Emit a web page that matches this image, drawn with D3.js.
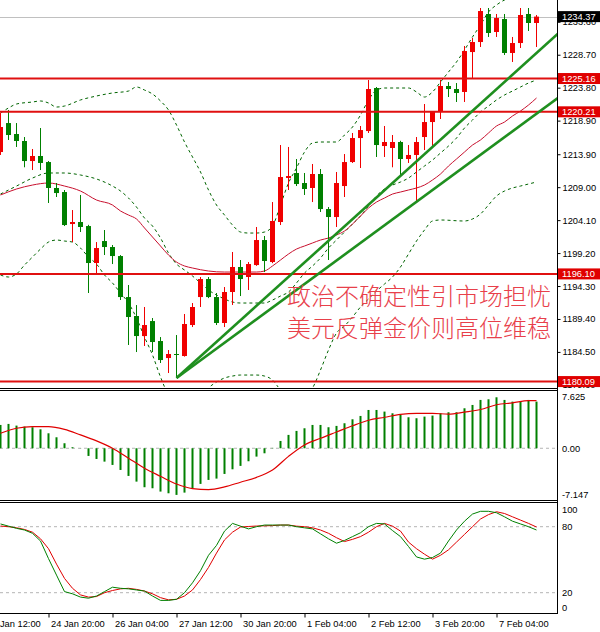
<!DOCTYPE html>
<html>
<head>
<meta charset="utf-8">
<script src="https://cdn.jsdelivr.net/npm/d3@7"></script>
<style>
body { margin: 0; background: #fff; }
svg { display: block; }
text { font-family: "Liberation Sans", Arial, sans-serif; font-size: 9.3px; }
</style>
</head>
<body>
<div id="chart"></div>
<script>
// H4 candles, bar 0 = leftmost visible bar
const openP = [1214.23,1218.54,1216.91,1215.87,1212.89,1213.64,1212.74,1208.88,1208.28,1203.52,
  1203.82,1203.22,1197.72,1200.99,1200.10,1198.76,1192.66,1189.84,1186.86,1189.09,
  1186.12,1183.59,1184.19,1183.89,1188.50,1192.66,1195.34,1192.66,1188.80,1193.41,
  1197.13,1195.64,1197.42,1201.14,1197.87,1203.82,1210.37,1211.11,1209.62,1208.88,
  1210.96,1205.75,1204.56,1209.17,1212.74,1216.31,1217.35,1223.75,1215.12,1214.83,
  1215.72,1213.19,1213.79,1216.46,1218.69,1220.18,1224.05,1223.60,1223.16,1229.10,
  1230.59,1234.76,1232.08,1234.01,1228.96,1230.44,1234.76,1233.42];
const highP = [1220.03,1220.48,1218.54,1216.46,1214.68,1217.80,1212.89,1209.62,1208.58,1205.60,
  1207.84,1203.40,1200.84,1202.63,1200.40,1198.90,1194.45,1191.47,1191.18,1189.54,
  1186.71,1184.78,1187.01,1190.14,1191.77,1195.64,1195.64,1193.26,1194.15,1199.36,
  1198.17,1197.87,1203.08,1201.74,1206.79,1215.27,1214.98,1213.19,1211.11,1212.45,
  1211.70,1206.05,1211.26,1213.93,1217.06,1218.10,1224.94,1223.90,1218.10,1216.76,
  1215.90,1215.27,1216.46,1221.37,1220.30,1224.94,1224.64,1224.49,1230.00,1231.19,
  1235.65,1235.65,1234.76,1234.76,1231.34,1235.65,1235.65,1234.61];
const lowP = [1213.79,1216.02,1214.98,1211.96,1211.55,1211.55,1206.65,1207.54,1203.22,1200.84,
  1202.33,1193.26,1195.94,1198.91,1197.57,1192.22,1185.53,1184.48,1185.38,1184.48,
  1182.85,1181.36,1180.62,1183.80,1188.20,1191.18,1192.50,1188.50,1188.20,1191.48,
  1192.81,1193.71,1197.30,1196.38,1197.70,1203.37,1208.58,1209.17,1207.84,1206.79,
  1205.31,1198.17,1203.08,1207.54,1212.60,1211.85,1217.06,1213.49,1213.49,1211.96,
  1210.81,1212.60,1206.79,1214.53,1214.98,1219.14,1222.41,1221.67,1221.67,1225.24,
  1229.85,1231.34,1231.34,1228.66,1227.62,1229.70,1232.23,1229.85];
const closeP = [1217.95,1216.76,1215.87,1212.89,1213.64,1212.60,1208.88,1208.13,1203.37,1203.82,
  1203.08,1197.72,1199.95,1200.10,1198.76,1192.66,1189.69,1186.86,1188.50,1185.97,
  1183.29,1184.19,1184.04,1188.65,1191.18,1195.34,1192.66,1188.80,1193.41,1197.13,
  1195.34,1197.57,1201.14,1198.02,1203.97,1210.51,1210.66,1209.47,1208.73,1210.96,
  1205.75,1204.56,1209.62,1212.74,1216.31,1217.50,1223.60,1215.27,1215.72,1215.72,
  1213.19,1213.79,1215.72,1218.69,1220.18,1224.05,1223.60,1223.01,1229.25,1230.59,
  1235.20,1231.93,1234.16,1228.96,1230.44,1234.61,1233.42,1234.37];

// Bollinger bands and moving average, [bar, price]
const bandUpper = [[0,1220.03],[1,1220.78],[2,1221.37],[4,1221.67],[5,1221.82],[6,1221.52],[7,1220.92],[8,1221.07],
  [10,1221.97],[12,1222.56],[14,1223.01],[16,1223.30],[17,1223.90],[18,1223.45],[19,1222.86],[20,1221.82],
  [21,1220.48],[22,1218.25],[23,1215.72],[24,1213.49],[25,1211.26],[26,1208.58],[27,1206.35],[28,1204.86],
  [29,1203.37],[30,1202.33],[31,1202.18],[32,1202.18],[33,1202.33],[34,1203.22],[35,1206.35],[36,1209.62],
  [37,1211.85],[38,1214.23],[39,1215.57],[40,1215.72],[42,1215.72],[43,1216.76],[44,1217.95],[45,1219.73],
  [46,1221.97],[47,1223.45],[48,1223.75],[51,1223.75],[52,1223.16],[53,1222.41],[54,1223.16],[55,1224.64],
  [56,1226.13],[57,1227.62],[58,1229.40],[59,1231.34],[60,1233.12],[61,1235.06],[62,1236.10],[63,1236.84],
  [64,1237.29],[65,1237.58],[66,1237.73],[67,1237.88]];
const bandMiddle = [[0,1207.98],[2,1209.17],[4,1210.36],[6,1211.11],[8,1211.11],[10,1210.81],[12,1210.22],
  [14,1209.17],[15,1208.43],[16,1207.39],[17,1206.05],[18,1204.41],[19,1203.22],[20,1201.44],[21,1199.21],
  [22,1197.57],[23,1196.68],[24,1195.79],[25,1194.75],[26,1193.71],[27,1192.96],[28,1192.37],[29,1191.92],
  [30,1191.77],[33,1191.77],[34,1192.22],[35,1192.81],[36,1193.41],[37,1194.75],[38,1196.23],[39,1197.28],
  [40,1198.47],[41,1199.95],[42,1201.14],[43,1202.33],[44,1203.52],[45,1204.71],[46,1206.20],[47,1207.69],
  [48,1208.73],[49,1209.32],[50,1209.77],[51,1210.36],[52,1211.26],[53,1212.15],[54,1213.04],[55,1214.08],
  [56,1215.12],[57,1216.31],[58,1217.80],[59,1218.99],[60,1220.18],[61,1221.07],[62,1221.97],[63,1222.71],
  [64,1223.30],[65,1223.90],[66,1224.49],[67,1224.94]];
const bandLower = [[0,1195.94],[1,1195.64],[2,1196.09],[3,1197.42],[4,1198.61],[5,1199.80],[6,1200.84],[7,1201.14],
  [8,1200.99],[9,1200.84],[10,1199.95],[11,1198.61],[12,1197.57],[13,1195.94],[14,1194.75],[15,1193.26],
  [16,1191.77],[17,1189.54],[18,1186.71],[19,1184.04],[20,1180.77],[21,1178.09],[22,1176.90],[23,1176.60],
  [24,1176.75],[25,1177.64],[26,1179.13],[27,1180.02],[28,1180.62],[29,1180.91],[30,1181.06],[32,1181.06],
  [33,1180.91],[34,1180.32],[35,1178.83],[36,1177.64],[37,1177.34],[38,1177.94],[39,1179.13],[40,1181.81],
  [41,1184.78],[42,1187.31],[43,1188.35],[44,1189.69],[45,1191.18],[46,1192.37],[47,1193.56],[48,1194.60],
  [49,1195.64],[50,1197.13],[51,1199.06],[52,1200.99],[53,1202.63],[54,1203.97],[55,1204.12],[58,1203.97],
  [59,1204.27],[60,1205.01],[61,1206.35],[62,1207.69],[63,1208.43],[64,1208.88],[65,1209.17],[66,1209.47],
  [67,1209.77]];
const maLine = [[0,1207.84],[2,1208.73],[4,1209.32],[6,1209.62],[8,1209.17],[10,1208.43],[12,1207.09],
  [14,1206.35],[15,1205.46],[16,1204.86],[17,1204.27],[18,1202.93],[19,1201.59],[20,1200.25],[21,1198.91],
  [22,1197.87],[23,1197.28],[24,1196.98],[26,1196.53],[28,1196.38],[32,1196.38],[33,1196.53],[34,1197.28],
  [35,1198.17],[36,1199.06],[37,1199.80],[38,1200.25],[39,1200.70],[40,1201.14],[41,1201.44],[42,1201.89],
  [43,1202.48],[44,1203.52],[45,1204.71],[46,1205.90],[47,1206.79],[48,1207.39],[49,1207.98],[50,1208.28],
  [51,1208.58],[52,1208.88],[53,1209.32],[54,1210.07],[55,1210.96],[56,1212.15],[57,1213.19],[58,1214.23],
  [59,1215.27],[60,1216.02],[61,1217.06],[62,1218.10],[63,1218.69],[64,1219.59],[65,1220.33],[66,1221.22],
  [67,1222.26]];

// support / resistance and trend lines
const levels = [1225.16, 1220.21, 1196.10, 1180.09];
const bidPrice = 1234.37;
const trendLines = [[[22,1180.62],[70,1232.17]], [[22,1180.62],[70,1222.55]]];
const priceTicks = [1233.60,1228.70,1223.80,1218.90,1213.90,1209.00,1204.10,1199.20,1194.30,1189.40,1184.50,1179.60];
const noteLines = ["政治不确定性引市场担忧", "美元反弹金价则高位维稳"];

// MACD
const macdHist = [3.16,3.30,3.07,2.94,2.85,2.57,2.03,1.49,0.68,0.14,
  0.02,-1.04,-1.45,-1.81,-2.26,-2.94,-3.75,-4.52,-5.28,-5.42,
  -5.87,-6.10,-6.32,-6.01,-5.42,-4.83,-4.29,-4.11,-3.48,-2.85,
  -2.39,-1.76,-1.13,-0.68,0.05,0.99,1.81,2.35,2.71,3.16,
  3.16,2.85,3.03,3.39,3.93,4.38,5.19,5.19,4.97,4.74,
  4.52,4.20,4.07,4.29,4.43,4.74,4.88,4.88,5.42,5.87,
  6.55,6.64,6.91,6.55,6.32,6.32,6.55,6.32];
const macdSignal = [[0,2.03],[2,2.71],[4,2.94],[6,2.94],[8,2.57],[10,1.81],[12,1.0],[14,0.0],[16,-1.35],
  [18,-2.7],[20,-3.8],[22,-4.85],[24,-5.47],[26,-5.6],[28,-5.24],[30,-4.6],[32,-3.95],[34,-2.95],[36,-1.1],
  [38,0.45],[40,1.35],[42,2.2],[44,3.05],[46,3.8],[48,4.2],[50,4.6],[52,4.74],[54,4.74],[56,4.62],
  [58,4.9],[60,5.25],[62,5.9],[64,6.15],[66,6.46],[67,6.46]];
const macdTicks = [7.625, 0, -7.147];
const macdTickText = ["7.625", "0.00", "-7.147"];

// Stochastic
const stochK = [82.5,80.5,78.5,77,74,67,51,36,21,19,
  16,15,17,21,25,24,23.5,22.5,21.5,17,
  13,13,14,20,29,40,54,63,76,83,
  80.5,78,80,81.5,81.5,81.5,81.5,80,79,78,
  73.5,69,65,67.5,71,74.5,80,83,82.5,76.5,
  71,62,52.5,50.5,52,56,67,77,85,91.5,
  94,94,92.7,89,85,82.5,80,77];
const stochD = [80.6,80,79,77.5,75,69,60,46,33,24,
  18,16,16.5,20,22,23.5,24,23,21.5,19,
  15.5,13.5,14,17,22.5,32,43,56,68,75,
  79.7,80.2,80.6,80.8,81,81.5,81.5,80.5,80,79,
  77,74,70,66.5,68.5,71,75,80,83,80.5,
  76,66,60,55,50.5,54,59,66,73,80,
  87,91,93.6,92,89,86,83,79.7];
const stochTicks = [100, 80, 20, 0];

const timeBars = [-2, 6, 14, 22, 30, 38, 46, 54, 62];
const timeLabels = ["23 Jan 12:00","24 Jan 20:00","26 Jan 04:00","27 Jan 12:00","30 Jan 20:00",
  "1 Feb 04:00","2 Feb 12:00","3 Feb 20:00","7 Feb 04:00"];

const width = 600, height = 632, plotW = 557;
const upColor = "#f00000", downColor = "#008000";

const svg = d3.select("#chart").append("svg").attr("width", width).attr("height", height);

const x = d3.scaleLinear().domain([0, 67]).range([0.5, 536.5]);
const y = d3.scaleLinear().domain([1179.43, 1236.84]).range([386, 0]);
const yM = d3.scaleLinear().domain([-7.147, 7.625]).range([501, 392]);
const yS = d3.scaleLinear().domain([0, 100]).range([614.7, 504.7]);

const defs = svg.append("defs");
const clip = (id, y0, h) => defs.append("clipPath").attr("id", id)
  .append("rect").attr("x", 0).attr("y", y0).attr("width", plotW).attr("height", h);
clip("cMain", 0, 387);
clip("cMacd", 391, 109);
clip("cStoch", 504, 109);

// ---- main price window
const gMain = svg.append("g").attr("clip-path", "url(#cMain)");

gMain.append("line").attr("x1", 0).attr("x2", plotW)
  .attr("y1", Math.round(y(bidPrice)) + 0.5).attr("y2", Math.round(y(bidPrice)) + 0.5)
  .attr("stroke", "#c0c0c0");

const priceLine = d3.line().x(d => x(d[0])).y(d => y(d[1])).curve(d3.curveMonotoneX);
[bandUpper, bandMiddle, bandLower].forEach(b => {
  gMain.append("path").datum(b).attr("d", priceLine)
    .attr("fill", "none").attr("stroke", "#006400").attr("stroke-width", 1)
    .attr("stroke-dasharray", "3,3");
});
gMain.append("path").datum(maLine).attr("d", priceLine)
  .attr("fill", "none").attr("stroke", "#c8102e").attr("stroke-width", 1);

const candles = openP.map((o, i) => ({i, o, h: highP[i], l: lowP[i], c: closeP[i]}));
const colorOf = d => d.c > d.o ? upColor : downColor;

const candle = gMain.selectAll(".candle").data(candles).join("g").attr("class", "candle");
candle.append("line")
  .attr("x1", d => x(d.i)).attr("x2", d => x(d.i))
  .attr("y1", d => y(d.h)).attr("y2", d => y(d.l))
  .attr("stroke", colorOf).attr("stroke-width", 1);
candle.append("rect")
  .attr("x", d => x(d.i) - 2.5).attr("width", 5)
  .attr("y", d => y(Math.max(d.o, d.c)))
  .attr("height", d => Math.max(1, Math.abs(y(d.o) - y(d.c))))
  .attr("fill", colorOf);

gMain.selectAll(".level").data(levels).join("line").attr("class", "level")
  .attr("x1", 0).attr("x2", plotW)
  .attr("y1", d => y(d)).attr("y2", d => y(d))
  .attr("stroke", "#e01010").attr("stroke-width", 2);

gMain.selectAll(".trend").data(trendLines).join("line").attr("class", "trend")
  .attr("x1", d => x(d[0][0])).attr("y1", d => y(d[0][1]))
  .attr("x2", d => x(d[1][0])).attr("y2", d => y(d[1][1]))
  .attr("stroke", "#1f8f1f").attr("stroke-width", 2.6);

svg.append("g").selectAll("text").data(noteLines).join("text")
  .attr("x", 287).attr("y", (d, k) => 305 + k * 32)
  .style("font-family", "'Noto Sans CJK SC', sans-serif")
  .style("font-size", "24px").style("font-weight", 300)
  .attr("fill", "#e8404a")
  .text(d => d);

// ---- MACD window
const gMacd = svg.append("g").attr("clip-path", "url(#cMacd)");
gMacd.append("line").attr("x1", 0).attr("x2", plotW)
  .attr("y1", yM(0)).attr("y2", yM(0))
  .attr("stroke", "#b4b4b4").attr("stroke-dasharray", "3,3");
gMacd.selectAll(".hist").data(macdHist).join("rect").attr("class", "hist")
  .attr("x", (d, i) => x(i) - 1).attr("width", 2)
  .attr("y", d => Math.min(yM(d), yM(0)))
  .attr("height", d => Math.abs(yM(d) - yM(0)))
  .attr("fill", downColor);
gMacd.append("path").datum(macdSignal)
  .attr("d", d3.line().x(d => x(d[0])).y(d => yM(d[1])).curve(d3.curveMonotoneX))
  .attr("fill", "none").attr("stroke", "#e00000").attr("stroke-width", 1.2);

// ---- Stochastic window
const gStoch = svg.append("g").attr("clip-path", "url(#cStoch)");
gStoch.selectAll(".lvl").data([80, 20]).join("line").attr("class", "lvl")
  .attr("x1", 0).attr("x2", plotW)
  .attr("y1", d => yS(d)).attr("y2", d => yS(d))
  .attr("stroke", "#b4b4b4").attr("stroke-dasharray", "3,3");
const stochLine = d3.line().x((d, i) => x(i)).y(d => yS(d));
gStoch.append("path").datum(stochD).attr("d", stochLine)
  .attr("fill", "none").attr("stroke", "#e00000").attr("stroke-width", 1);
gStoch.append("path").datum(stochK).attr("d", stochLine)
  .attr("fill", "none").attr("stroke", downColor).attr("stroke-width", 1);

// ---- frames
const frame = svg.append("g").attr("stroke", "#000").attr("stroke-width", 1);
[388.5, 390.5, 500.5, 502.5, 613.5].forEach(v => {
  frame.append("line").attr("x1", 0).attr("x2", plotW + 0.5).attr("y1", v).attr("y2", v);
});
frame.append("line").attr("x1", plotW + 0.5).attr("x2", plotW + 0.5).attr("y1", 0).attr("y2", 614);

// ---- price axis
const yAxis = d3.axisRight(y).tickValues(priceTicks).tickFormat(d3.format(".2f")).tickSize(3).tickPadding(2);
svg.append("g").attr("transform", `translate(${plotW + 0.5},0)`).call(yAxis)
  .call(g => g.select(".domain").remove())
  .call(g => g.selectAll("text").attr("font-size", null).attr("font-family", null).attr("fill", "#000"));

const tag = svg.append("g");
const tags = levels.map(v => ({v, bg: "#e00000"})).concat([{v: bidPrice, bg: "#000"}]);
tags.forEach(t => {
  tag.append("rect").attr("x", plotW + 1).attr("y", y(t.v) - 5.5)
    .attr("width", width - plotW - 1).attr("height", 11).attr("fill", t.bg);
  tag.append("text").attr("x", 562).attr("y", y(t.v)).attr("dy", "0.35em")
    .attr("fill", "#fff").text(d3.format(".2f")(t.v));
});

// ---- MACD and stochastic axes
svg.append("g").selectAll("text").data(macdTicks).join("text")
  .attr("x", 562).attr("y", d => Math.min(Math.max(yM(d), 397), 495)).attr("dy", "0.35em")
  .text((d, k) => macdTickText[k]);
svg.append("g").selectAll("text").data(stochTicks).join("text")
  .attr("x", 562).attr("y", d => Math.min(Math.max(yS(d), 510), 608)).attr("dy", "0.35em")
  .text(d => d);

// ---- time axis
const xAxis = d3.axisBottom(x).tickValues(timeBars)
  .tickFormat((d, k) => timeLabels[k]).tickSize(4).tickPadding(3);
svg.append("g").attr("transform", "translate(0,613.5)").call(xAxis)
  .call(g => g.select(".domain").remove())
  .call(g => g.selectAll("text").attr("font-size", null).attr("font-family", null)
    .attr("fill", "#000").attr("text-anchor", "start").attr("x", 2));
</script>
</body>
</html>
